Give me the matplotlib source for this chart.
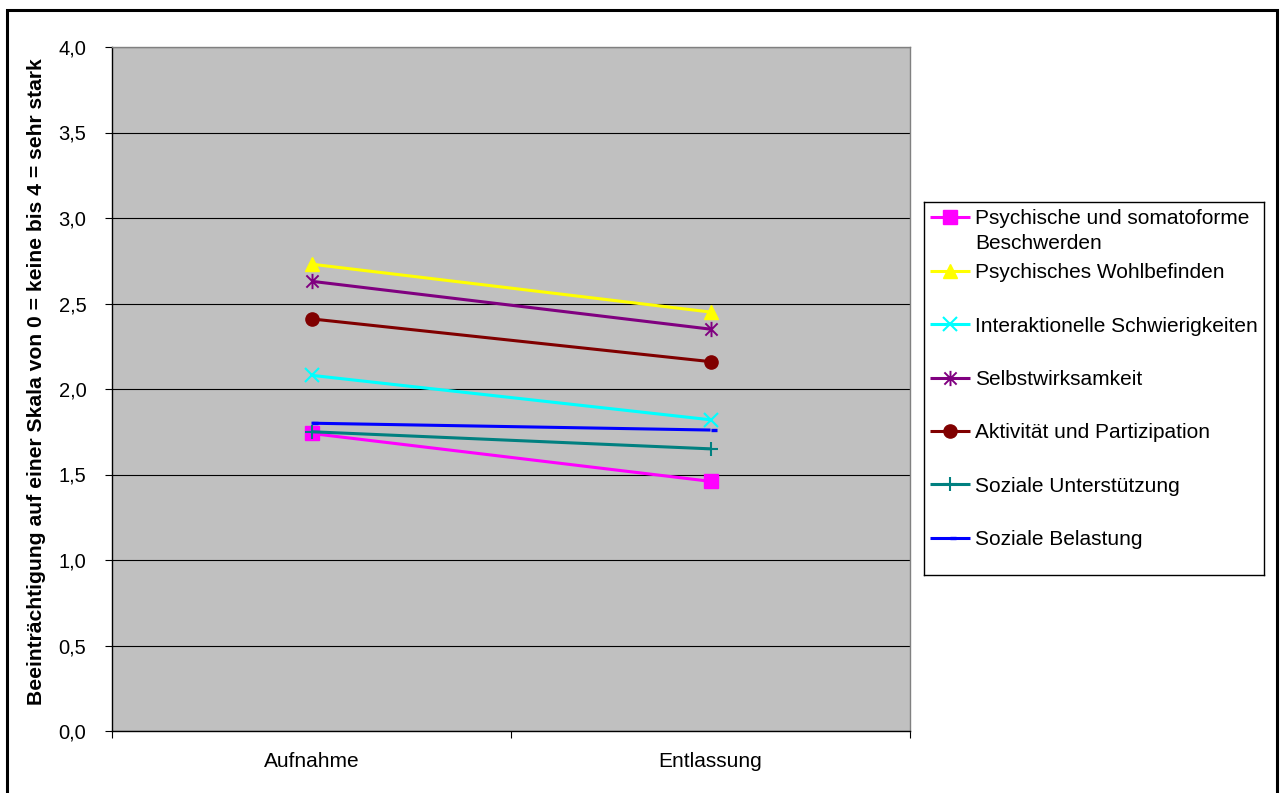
import matplotlib
matplotlib.use("Agg")
import matplotlib.pyplot as plt
from matplotlib.path import Path
from matplotlib.patches import Rectangle
from matplotlib.ticker import FixedLocator

plt.rcParams['font.family'] = ['Liberation Sans', 'DejaVu Sans']

# ---- data -------------------------------------------------------------
categories = ["Aufnahme", "Entlassung"]

series_labels = [
    "Psychische und somatoforme\nBeschwerden",
    "Psychisches Wohlbefinden",
    "Interaktionelle Schwierigkeiten",
    "Selbstwirksamkeit",
    "Aktivität und Partizipation",
    "Soziale Unterstützung",
    "Soziale Belastung",
]

psychische_beschwerden = [1.74, 1.46]
psychisches_wohlbefinden = [2.73, 2.45]
interaktionelle_schwierigkeiten = [2.08, 1.82]
selbstwirksamkeit = [2.63, 2.35]
aktivitaet_partizipation = [2.41, 2.16]
soziale_unterstuetzung = [1.75, 1.65]
soziale_belastung = [1.80, 1.76]

y_ticks = [0.0, 0.5, 1.0, 1.5, 2.0, 2.5, 3.0, 3.5, 4.0]
y_label = "Beeinträchtigung auf einer Skala von 0 = keine bis 4 = sehr stark"

# ---- styles -----------------------------------------------------------
asterisk = Path([(0, -1), (0, 1), (-0.8, -0.8), (0.8, 0.8), (-0.8, 0.8), (0.8, -0.8)],
                [Path.MOVETO, Path.LINETO] * 3)
dash = Path([(0, 0), (1, 0)], [Path.MOVETO, Path.LINETO])

series_values = [psychische_beschwerden, psychisches_wohlbefinden,
                 interaktionelle_schwierigkeiten, selbstwirksamkeit,
                 aktivitaet_partizipation, soziale_unterstuetzung,
                 soziale_belastung]
colors = ["#FF00FF", "#FFFF00", "#00FFFF", "#800080", "#800000", "#008080", "#0000FF"]
markers = ["s", "^", "x", asterisk, "o", "+", dash]
msizes = [9.5, 10, 9.5, 11, 9.5, 10, 9]
mews = [1, 1, 1.5, 1.4, 1, 1.5, 2.4]

W, H = 1280, 793
fig = plt.figure(figsize=(W / 100, H / 100), dpi=100)

# plot area (pixel bounds)
px_l, px_r, px_t, px_b = 112, 910, 47, 731
ax = fig.add_axes([px_l / W, 1 - px_b / H, (px_r - px_l) / W, (px_b - px_t) / H])
ax.set_facecolor("#C0C0C0")

x = [i + 0.5 for i in range(len(categories))]
for vals, col, mk, ms, mew in zip(series_values, colors, markers, msizes, mews):
    ax.plot(x, vals, color=col, lw=2.2, marker=mk, markersize=ms,
            markerfacecolor=col, markeredgecolor=col, markeredgewidth=mew,
            solid_capstyle="butt", zorder=3)

ax.set_xlim(0, len(categories))
ax.set_ylim(y_ticks[0], y_ticks[-1])
ax.set_yticks(y_ticks)
ax.set_yticklabels([f"{v:.1f}".replace(".", ",") for v in y_ticks], fontsize=14.5)
ax.tick_params(axis="y", direction="out", length=5, width=0.8, pad=13.5, colors="black")

ax.set_xticks(x)
ax.set_xticklabels(categories, fontsize=15)
ax.tick_params(axis="x", which="major", length=0, pad=15)
ax.xaxis.set_minor_locator(FixedLocator(range(len(categories) + 1)))
ax.tick_params(axis="x", which="minor", direction="out", length=5, width=0.8)

ax.yaxis.grid(True, color="black", lw=0.8)
ax.set_axisbelow(True)
for side in ("top", "right"):
    ax.spines[side].set_color("#808080")
    ax.spines[side].set_linewidth(1.0)
for side in ("left", "bottom"):
    ax.spines[side].set_color("black")
    ax.spines[side].set_linewidth(1.0)

fig.text(37 / W, 1 - 382 / H, y_label, rotation=90, ha="center", va="center",
         fontsize=15.2, fontweight="bold")

# ---- legend box -------------------------------------------------------
lg_l, lg_r, lg_t, lg_b = 924, 1264, 202, 575
lax = fig.add_axes([lg_l / W, 1 - lg_b / H, (lg_r - lg_l) / W, (lg_b - lg_t) / H])
lax.set_xlim(lg_l, lg_r)
lax.set_ylim(lg_b, lg_t)
lax.set_xticks([])
lax.set_yticks([])
lax.set_facecolor("white")
for sp in lax.spines.values():
    sp.set_color("black")
    sp.set_linewidth(1.0)

row0, row_step, line_gap = 217, 53.5, 24.3
for i, (lab, col, mk, ms, mew) in enumerate(zip(series_labels, colors, markers, msizes, mews)):
    yy = row0 + i * row_step
    lax.plot([930, 970], [yy, yy], color=col, lw=2.2, solid_capstyle="butt")
    lax.plot([950], [yy], color=col, marker=mk, markersize=ms,
             markerfacecolor=col, markeredgecolor=col, markeredgewidth=mew)
    # the handle lines up with the first line of a wrapped label
    extra = lab.count("\n") * line_gap
    lax.text(975, yy + 7.5 + extra, lab, fontsize=15, va="baseline", ha="left",
             linespacing=1.40)

# outer chart frame
fig.add_artist(Rectangle((7.3 / W, -0.05), (1277.3 - 7.3) / W, 1.05 - 9.8 / H,
                         transform=fig.transFigure, fill=False, lw=2.2,
                         ec="black", clip_on=False))

fig.savefig("out.png", dpi=100, facecolor="white")
